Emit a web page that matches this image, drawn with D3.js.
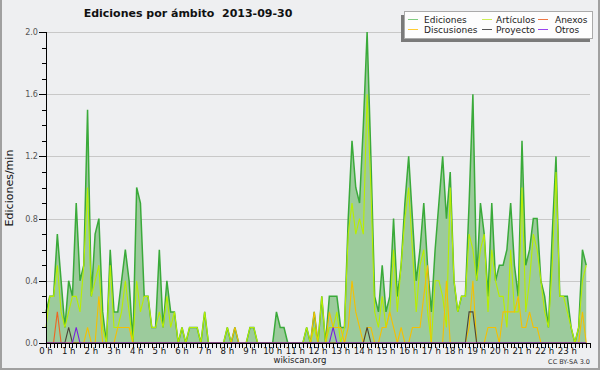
<!DOCTYPE html>
<html>
  <head>
    <meta charset="utf-8">
    <script src="https://d3js.org/d3.v7.min.js"></script>
    <style>
      html, body {
        margin: 0;
        padding: 0;
        overflow: hidden;
        background: #eeeff1;
      }
      svg text {
        font-family: "DejaVu Sans", sans-serif;
      }
      .narrow {
        font-family: "DejaVu Sans Condensed", "DejaVu Sans", sans-serif;
      }
    </style>
  </head>
  <body>
    <div id="chart"></div>
    <script>
      // one value every 10 minutes, in edits per minute
      const ediciones = [
        0.2,0.3,0.3,0.7,0.4,0.1,0.4,0.3,0.9,0.4,0.5,1.5,
        0.3,0.7,0.8,0.2,0.0,0.6,0.2,0.2,0.4,0.6,0.4,0.0,
        1.0,0.9,0.3,0.3,0.1,0.1,0.6,0.1,0.4,0.2,0.2,0.0,
        0.1,0.0,0.1,0.1,0.1,0.0,0.2,0.0,0.0,0.0,0.0,0.0,
        0.1,0.0,0.1,0.0,0.0,0.0,0.1,0.1,0.0,0.0,0.0,0.0,
        0.0,0.2,0.1,0.1,0.0,0.0,0.0,0.0,0.0,0.1,0.0,0.2,
        0.0,0.3,0.0,0.3,0.3,0.3,0.1,0.1,0.8,1.3,1.0,0.9,
        1.4,2.0,1.2,0.3,0.2,0.5,0.2,0.3,0.8,0.3,0.5,0.9,
        1.2,0.8,0.4,0.6,0.9,0.5,0.2,0.6,0.9,1.2,0.8,1.1,
        0.4,0.2,0.3,0.3,0.9,1.6,0.4,0.9,0.7,0.3,0.9,0.4,
        0.5,0.5,0.6,0.9,0.5,0.3,1.3,0.5,0.6,0.8,0.8,0.4,
        0.3,0.1,0.7,1.2,0.3,0.3,0.3,0.1,0.0,0.1,0.6,0.5
      ];
      const articulos = [
        0.1,0.3,0.3,0.5,0.2,0.1,0.2,0.3,0.3,0.2,0.5,1.0,
        0.3,0.4,0.5,0.1,0.0,0.5,0.1,0.1,0.2,0.4,0.2,0.0,
        0.4,0.2,0.3,0.3,0.1,0.1,0.2,0.1,0.3,0.1,0.2,0.0,
        0.1,0.0,0.1,0.1,0.1,0.0,0.2,0.0,0.0,0.0,0.0,0.0,
        0.1,0.0,0.0,0.0,0.0,0.0,0.1,0.1,0.0,0.0,0.0,0.0,
        0.0,0.0,0.0,0.0,0.0,0.0,0.0,0.0,0.0,0.1,0.0,0.1,
        0.0,0.3,0.0,0.1,0.1,0.2,0.0,0.1,0.7,0.9,0.7,0.8,
        0.7,1.6,1.0,0.2,0.1,0.3,0.1,0.2,0.6,0.2,0.5,0.8,
        1.0,0.6,0.2,0.5,0.6,0.2,0.0,0.4,0.4,0.3,0.1,1.0,
        0.4,0.2,0.3,0.3,0.7,0.6,0.4,0.6,0.7,0.2,0.6,0.4,
        0.3,0.3,0.1,0.6,0.2,0.2,1.0,0.2,0.4,0.7,0.6,0.4,
        0.2,0.1,0.5,1.1,0.3,0.3,0.2,0.1,0.0,0.1,0.4,0.5
      ];
      const discusiones = [
        0,0,0,0,0,0,0,0,0,0,0,0.1,
        0,0,0.3,0,0,0,0,0.1,0.1,0.1,0.1,0,
        0,0,0,0,0,0,0,0,0,0,0,0,
        0,0,0,0,0,0,0,0,0,0,0,0,
        0,0,0.1,0,0,0,0,0,0,0,0,0,
        0,0,0,0,0,0,0,0,0,0,0,0.2,
        0,0,0,0.2,0.1,0.1,0.1,0,0.1,0.4,0.2,0.1,
        0,0.1,0.1,0,0,0.1,0.1,0.2,0.1,0,0.1,0,
        0,0.1,0.1,0.1,0.3,0.5,0,0,0,0,0.4,0,
        0,0,0,0,0.1,0.4,0,0,0,0.1,0.1,0.1,
        0,0.2,0.2,0.2,0.2,0.3,0.1,0.1,0.2,0.1,0.1,0,
        0,0,0,0,0,0,0,0,0,0,0.2,0
      ];
      const anexos = [
        0,0,0,0.2,0,0,0,0,0,0,0,0,
        0,0,0,0,0,0,0,0,0,0,0,0,
        0,0,0,0,0,0,0,0,0,0,0,0,
        0,0,0,0,0,0,0,0,0,0,0,0,
        0,0,0,0,0,0,0,0,0,0,0,0,
        0,0,0,0,0,0,0,0,0,0,0,0,
        0,0,0,0,0,0,0,0,0,0,0,0,
        0,0,0,0,0,0,0,0,0,0,0,0,
        0,0,0,0,0,0,0,0,0,0,0,0,
        0,0,0,0,0,0,0,0,0,0,0,0,
        0,0,0,0,0,0,0,0,0,0,0,0,
        0,0,0,0,0,0,0,0,0,0,0,0
      ];
      const proyecto = [
        0,0,0,0,0,0,0.1,0,0,0,0,0,
        0,0,0,0,0,0,0,0,0,0,0,0,
        0,0,0,0,0,0,0,0,0,0,0,0,
        0,0,0,0,0,0,0,0,0,0,0,0,
        0,0,0,0,0,0,0,0,0,0,0,0,
        0,0,0,0,0,0,0,0,0,0,0,0,
        0,0,0,0,0,0,0,0,0,0,0,0,
        0,0.1,0,0,0,0,0,0,0,0,0,0,
        0,0,0,0,0,0,0,0,0,0,0,0,
        0,0,0,0,0.2,0.2,0,0,0,0,0,0,
        0,0,0,0,0,0,0,0,0,0,0,0,
        0,0,0,0,0,0,0,0,0,0,0,0
      ];
      const otros = [
        0,0,0,0,0,0,0,0,0.1,0,0,0,
        0,0,0,0,0,0,0,0,0,0,0,0,
        0,0,0,0,0,0,0,0,0,0,0,0,
        0,0,0,0,0,0,0,0,0,0,0,0,
        0,0,0,0,0,0,0,0,0,0,0,0,
        0,0,0,0,0,0,0,0,0,0,0,0,
        0,0,0,0,0.1,0,0,0,0,0,0,0,
        0,0,0,0,0,0,0,0,0,0,0,0,
        0,0,0,0,0,0,0,0,0,0,0,0,
        0,0,0,0,0,0,0,0,0,0,0,0,
        0,0,0,0,0,0,0,0,0,0,0,0,
        0,0,0,0,0,0,0,0,0,0,0,0
      ];

      const hourLabels = ["0 h","1 h","2 h","3 h","4 h","5 h","6 h","7 h","8 h","9 h","10 h","11 h",
                          "12 h","13 h","14 h","15 h","16 h","17 h","18 h","19 h","20 h","21 h","22 h","23 h"];
      const yLabels = ["0.0","0.4","0.8","1.2","1.6","2.0"];
      const legendNames = ["Ediciones","Artículos","Anexos","Discusiones","Proyecto","Otros"];

      const width = 600, height = 370;
      const margin = { left: 46, right: 590, top: 32, bottom: 343 };

      const colors = {
        Ediciones: "#3aaa3a",
        Artículos: "#b8ee00",
        Discusiones: "#f5c000",
        Anexos: "#ee6622",
        Proyecto: "#4a4438",
        Otros: "#7a22dd"
      };
      const legendColors = {
        Ediciones: "#80cc80",
        Artículos: "#ccee55",
        Anexos: "#ee7744",
        Discusiones: "#ffcc33",
        Proyecto: "#555555",
        Otros: "#9944ee"
      };

      const svg = d3.select("#chart").append("svg")
        .attr("width", width)
        .attr("height", height);

      svg.append("rect").attr("width", width).attr("height", height).attr("fill", "#eeeff1");

      // 144 ten-minute slots over the day
      const x = d3.scaleLinear().domain([0, 144]).range([margin.left, margin.right]);
      const y = d3.scaleLinear().domain([0, 2]).range([margin.bottom, margin.top]);

      // grid
      svg.append("g").selectAll("line")
        .data(yLabels.slice(1))
        .enter().append("line")
        .attr("x1", margin.left).attr("x2", margin.right)
        .attr("y1", d => Math.round(y(+d)) + 0.5)
        .attr("y2", d => Math.round(y(+d)) + 0.5)
        .attr("stroke", "#c8c8c8");

      // Ediciones area
      svg.append("path")
        .datum(ediciones)
        .attr("fill", "#9ccb9c")
        .attr("d", d3.area().x((d, i) => x(i)).y0(y(0)).y1(d => y(d)));

      const line = d3.line().x((d, i) => x(i)).y(d => y(d));
      const series = [
        ["Ediciones", ediciones, 1.5],
        ["Artículos", articulos, 1.1],
        ["Discusiones", discusiones, 1.1],
        ["Anexos", anexos, 1.1],
        ["Proyecto", proyecto, 1.1],
        ["Otros", otros, 1.1]
      ];
      series.forEach(([name, values, w]) => {
        svg.append("path")
          .datum(values)
          .attr("fill", "none")
          .attr("stroke", colors[name])
          .attr("stroke-width", w)
          .attr("d", line);
      });

      // y axis
      const yAxis = svg.append("g");
      yAxis.append("line")
        .attr("x1", margin.left + 0.5).attr("x2", margin.left + 0.5)
        .attr("y1", margin.top).attr("y2", margin.bottom + 1)
        .attr("stroke", "#000");
      yAxis.selectAll("line.tick")
        .data(d3.range(21))
        .enter().append("line")
        .attr("class", "tick")
        .attr("x1", d => d % 4 === 0 ? margin.left - 7 : margin.left - 4)
        .attr("x2", margin.left)
        .attr("y1", d => Math.round(y(d / 10)) + 0.5)
        .attr("y2", d => Math.round(y(d / 10)) + 0.5)
        .attr("stroke", "#000");
      yAxis.selectAll("text")
        .data(yLabels)
        .enter().append("text")
        .attr("class", "narrow")
        .attr("x", margin.left - 8)
        .attr("y", d => y(+d) + 3)
        .attr("text-anchor", "end")
        .attr("font-size", 9)
        .attr("fill", "#555")
        .text(d => d);

      // x axis
      const xAxis = svg.append("g");
      xAxis.append("line")
        .attr("x1", margin.left).attr("x2", margin.right)
        .attr("y1", margin.bottom + 0.5).attr("y2", margin.bottom + 0.5)
        .attr("stroke", "#000");
      xAxis.selectAll("line.tick")
        .data(d3.range(145))
        .enter().append("line")
        .attr("class", "tick")
        .attr("x1", d => Math.round(x(d)) + 0.5)
        .attr("x2", d => Math.round(x(d)) + 0.5)
        .attr("y1", margin.bottom).attr("y2", margin.bottom + 5)
        .attr("stroke", "#000");
      xAxis.selectAll("text")
        .data(hourLabels)
        .enter().append("text")
        .attr("class", "narrow")
        .attr("x", (d, i) => x(i * 6))
        .attr("y", margin.bottom + 11)
        .attr("text-anchor", "middle")
        .attr("font-size", 9.5)
        .attr("fill", "#111")
        .text(d => d);

      // titles
      svg.append("text")
        .attr("x", 188).attr("y", 17)
        .attr("text-anchor", "middle")
        .attr("font-size", 11)
        .attr("font-weight", "bold")
        .attr("fill", "#111")
        .attr("xml:space", "preserve")
        .text("Ediciones por ámbito  2013-09-30");

      svg.append("text")
        .attr("transform", "translate(13,188) rotate(-90)")
        .attr("text-anchor", "middle")
        .attr("font-size", 11)
        .attr("fill", "#111")
        .text("Ediciones/min");

      svg.append("text")
        .attr("x", 300).attr("y", 363)
        .attr("text-anchor", "middle")
        .attr("font-size", 8.5)
        .attr("fill", "#222")
        .text("wikiscan.org");

      svg.append("text")
        .attr("x", 590).attr("y", 364)
        .attr("text-anchor", "end")
        .attr("font-size", 6.5)
        .attr("fill", "#333")
        .text("CC BY-SA 3.0");

      // legend
      const lg = svg.append("g");
      lg.append("rect").attr("x", 401).attr("y", 15).attr("width", 189).attr("height", 27).attr("fill", "#7a7a7a");
      lg.append("rect").attr("x", 404.5).attr("y", 11.5).attr("width", 188).attr("height", 27)
        .attr("fill", "#fdfdfd").attr("stroke", "#aaa");
      const colX = [408, 482, 538];
      const textX = [424, 496, 555];
      legendNames.forEach((name, i) => {
        const c = i % 3, r = Math.floor(i / 3);
        const ly = 19.5 + r * 10;
        lg.append("line")
          .attr("x1", colX[c]).attr("x2", colX[c] + 10)
          .attr("y1", ly).attr("y2", ly)
          .attr("stroke", legendColors[name]);
        lg.append("text")
          .attr("x", textX[c]).attr("y", ly + 3.5)
          .attr("font-size", 9)
          .attr("fill", "#222")
          .text(name);
      });

      // frame
      svg.append("path")
        .attr("d", `M1,0V${height - 1}H${width - 1}V0`)
        .attr("fill", "none")
        .attr("stroke", "#a0a0a0")
        .attr("stroke-width", 2);
    </script>
  </body>
</html>
